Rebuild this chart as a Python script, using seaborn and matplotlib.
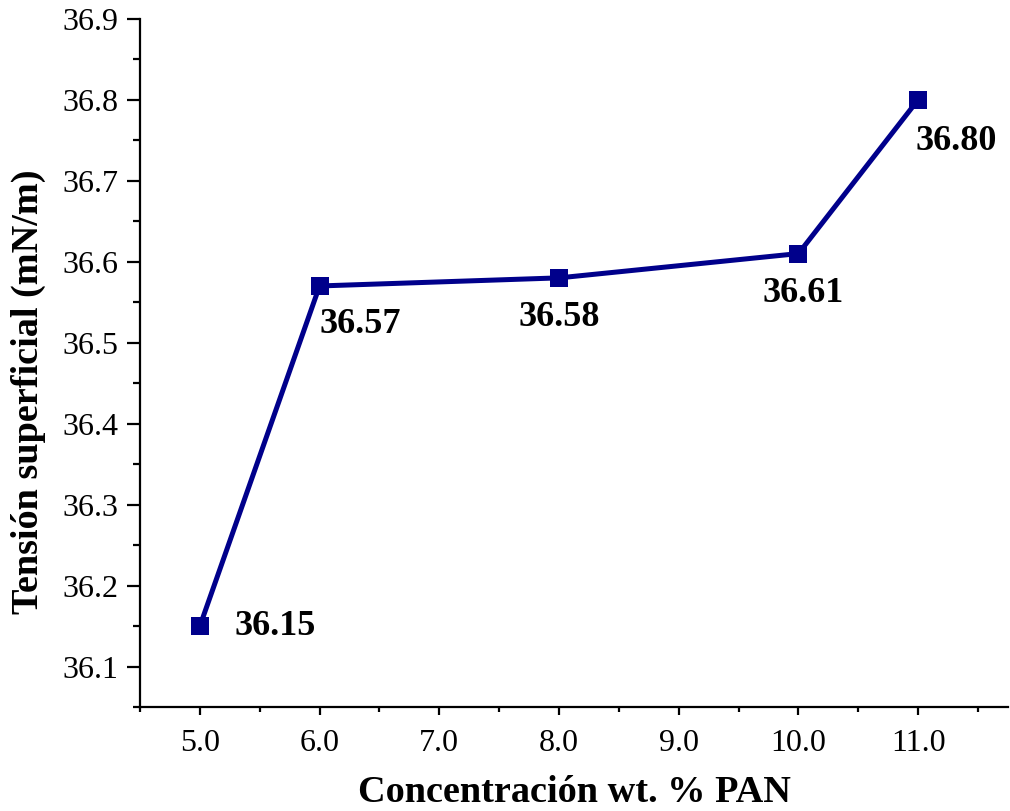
import matplotlib
matplotlib.use("Agg")
import matplotlib.pyplot as plt
from matplotlib.ticker import MultipleLocator, FormatStrFormatter
import seaborn as sns
import pandas as pd

# Surface tension of PAN solutions vs. polymer concentration
concentration = [5.0, 6.0, 8.0, 10.0, 11.0]
tension = [36.15, 36.57, 36.58, 36.61, 36.80]
value_labels = ["36.15", "36.57", "36.58", "36.61", "36.80"]

df = pd.DataFrame({"conc": concentration, "tension": tension})

sns.set_theme(style="ticks")
plt.rcParams["font.family"] = ["Liberation Serif", "DejaVu Serif"]
plt.rcParams.update({"text.color": "black", "axes.labelcolor": "black",
                     "xtick.color": "black", "ytick.color": "black",
                     "axes.edgecolor": "black"})

fig = plt.figure(figsize=(10.1, 8.11), dpi=100)
ax = fig.add_axes([0.1386, 0.128, 0.8594, 0.849])

color = "#00008B"
sns.lineplot(data=df, x="conc", y="tension", ax=ax, color=color, linewidth=3.6,
             marker="s", markersize=13.5, markeredgewidth=0, markerfacecolor=color)

ax.set_xlim(4.5, 11.75)
ax.set_ylim(36.05, 36.9)
ax.xaxis.set_major_locator(MultipleLocator(1.0))
ax.xaxis.set_minor_locator(MultipleLocator(0.5))
ax.yaxis.set_major_locator(MultipleLocator(0.1))
ax.yaxis.set_minor_locator(MultipleLocator(0.05))
ax.xaxis.set_major_formatter(FormatStrFormatter("%.1f"))
ax.yaxis.set_major_formatter(FormatStrFormatter("%.1f"))

for side in ("top", "right"):
    ax.spines[side].set_visible(False)
for side in ("left", "bottom"):
    ax.spines[side].set_linewidth(1.6)

ax.tick_params(axis="y", which="major", length=9.5, width=1.6, labelsize=23, pad=6)
ax.tick_params(axis="y", which="minor", length=5, width=1.6)
ax.tick_params(axis="x", which="major", length=6, width=1.6, labelsize=23, pad=10)
ax.tick_params(axis="x", which="minor", length=3.6, width=1.6)
ax.tick_params(which="both", direction="out", left=True, bottom=True)

ax.set_xlabel("Concentración wt. % PAN", fontsize=27.5, fontweight="bold", labelpad=12)
ax.set_ylabel("Tensión superficial (mN/m)", fontsize=27.5, fontweight="bold", labelpad=12)
ax.yaxis.label.set_y(0.458)

# value annotations (offsets in points from each marker)
offsets = [(25, 0, "left", "center"),
           (0, -16, "left", "top"),
           (0, -17, "center", "top"),
           (3, -17, "center", "top"),
           (-2, -18, "left", "top")]
for x, y, lab, (dx, dy, ha, va) in zip(concentration, tension, value_labels, offsets):
    ax.annotate(lab, (x, y), xytext=(dx, dy), textcoords="offset points",
                ha=ha, va=va, fontsize=26, fontweight="bold", color="black")

fig.savefig("out.png", dpi=100, facecolor="white")
